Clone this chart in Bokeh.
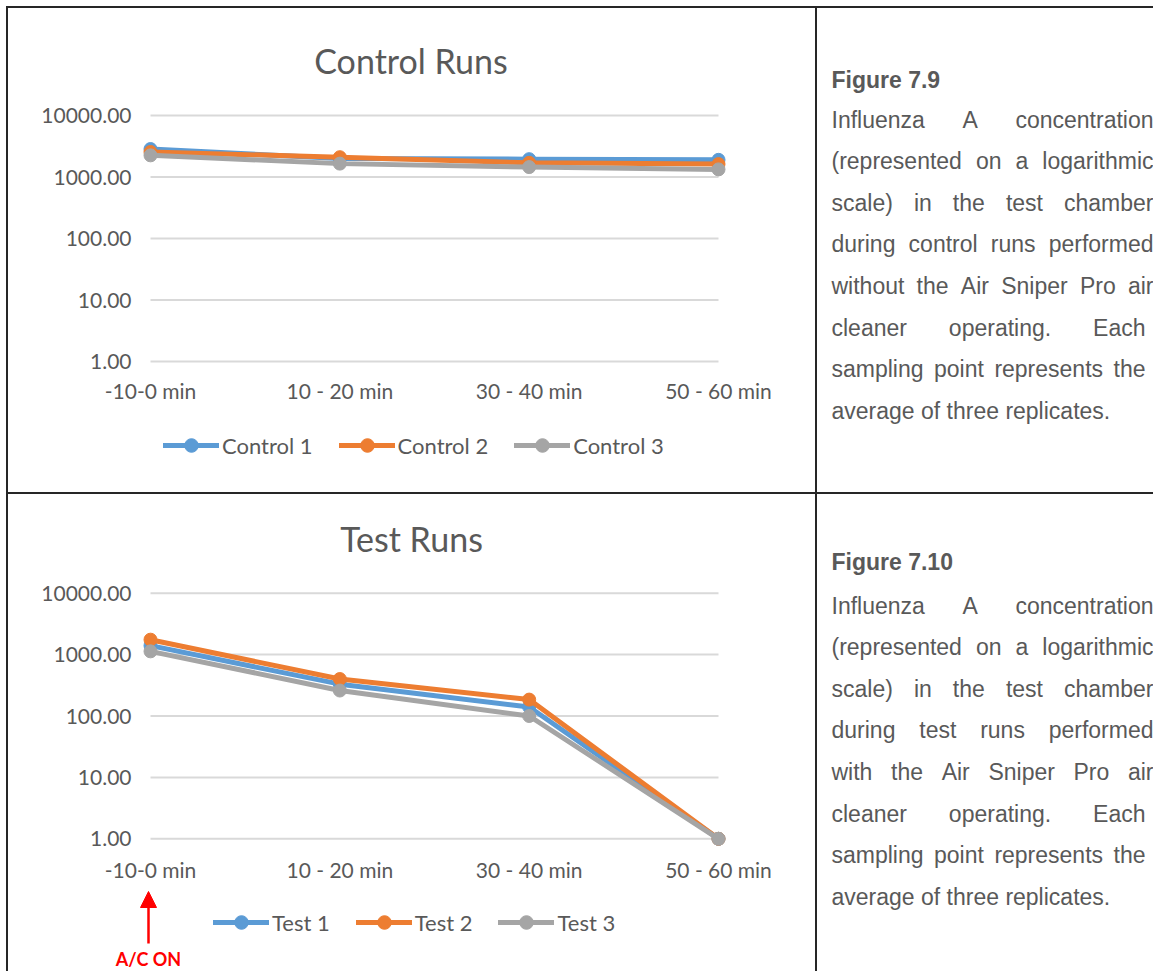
import math
from bokeh.plotting import figure
from bokeh.models import (Range1d, FixedTicker, NumeralTickFormatter, Legend, LegendItem,
                          Label, Arrow, NormalHead, ColumnDataSource, Spacer)
from bokeh.layouts import row, column
from bokeh.embed import file_html
from bokeh.resources import INLINE
from bokeh.core.properties import value

# ---------------- data ----------------
intervals = ["-10-0 min", "10 - 20 min", "30 - 40 min", "50 - 60 min"]
y_ticks = [1, 10, 100, 1000, 10000]

control_names = ["Control 1", "Control 2", "Control 3"]
control_1 = [2850, 2000, 1950, 1900]
control_2 = [2550, 2100, 1700, 1620]
control_3 = [2250, 1650, 1450, 1330]

test_names = ["Test 1", "Test 2", "Test 3"]
test_1 = [1400, 330, 140, 1]
test_2 = [1750, 400, 185, 1]
test_3 = [1130, 260, 100, 1]

series_colors = ["#5B9BD5", "#ED7D31", "#A5A5A5"]

caption_1_title = "Figure 7.9"
caption_1_lines = [
    "Influenza A concentration",
    "(represented on a logarithmic",
    "scale) in the test chamber",
    "during control runs performed",
    "without the Air Sniper Pro air",
    "cleaner operating. Each",
    "sampling point represents the",
    "average of three replicates.",
]
caption_2_title = "Figure 7.10"
caption_2_lines = [
    "Influenza A concentration",
    "(represented on a logarithmic",
    "scale) in the test chamber",
    "during test runs performed",
    "with the Air Sniper Pro air",
    "cleaner operating. Each",
    "sampling point represents the",
    "average of three replicates.",
]

# ---------------- styles / layout (page pixels) ----------------
TEXT_GRAY = "#595959"
GRID_GRAY = "#D9D9D9"
RULE = "#262626"
CHART_FONT = "Lato"

OFFSET = 6
RULE_W = 2
CHART_W = 807
TEXT_W = 336
ROW_H = [484, 477]
CONTENT_W = RULE_W + CHART_W + RULE_W + TEXT_W

CELL_X = OFFSET + RULE_W                 # 8
TEXT_X = CELL_X + CHART_W + RULE_W       # 817
ROW1_TOP = OFFSET + RULE_W               # 8
ROW2_TOP = ROW1_TOP + ROW_H[0] + RULE_W  # 494

LEFT_B = 95
TOP_B = 32
CAT_LEFT, CAT_RIGHT = 150, 718
YLABEL_RIGHT = 131
LEGEND_H = 34


def rule(w, h):
    return Spacer(width=w, height=h, styles={"background-color": RULE})


def make_chart(title, names, series, cell_top, cell_h, grid_top, grid_bottom,
               title_pos, label_cy, legend_pos, arrow=None):
    n = len(intervals)
    xs = list(range(n))
    frame_left = CELL_X + LEFT_B
    frame_right = CELL_X + CHART_W
    frame_top = cell_top + TOP_B
    frame_bottom = cell_top + cell_h
    px_per_cat = (CAT_RIGHT - CAT_LEFT) / (n - 1)
    lo = math.log10(y_ticks[0])
    px_per_dec = (grid_bottom - grid_top) / (math.log10(y_ticks[-1]) - lo)

    def xd(px):
        return (px - CAT_LEFT) / px_per_cat

    def yd(py):
        return 10 ** (lo + (grid_bottom - py) / px_per_dec)

    p = figure(width=CHART_W, height=cell_h, output_backend="svg", toolbar_location=None,
               y_axis_type="log", x_axis_location="above",
               x_range=Range1d(xd(frame_left), xd(frame_right)),
               y_range=Range1d(yd(frame_bottom), yd(frame_top)),
               min_border_left=LEFT_B, min_border_right=0, min_border_top=TOP_B, min_border_bottom=0)
    p.outline_line_color = None
    p.background_fill_color = "white"
    p.border_fill_color = "white"
    p.grid.grid_line_color = None

    p.xaxis.ticker = FixedTicker(ticks=xs)
    p.xaxis.major_label_overrides = {i: lab for i, lab in enumerate(intervals)}
    p.xaxis.fixed_location = yd(label_cy + 11.8)
    p.xaxis.major_label_standoff = 0
    p.yaxis.ticker = FixedTicker(ticks=y_ticks)
    p.yaxis.formatter = NumeralTickFormatter(format="0.00")
    p.yaxis.major_label_standoff = frame_left - YLABEL_RIGHT
    for ax in (p.xaxis, p.yaxis):
        ax.axis_line_color = None
        ax.major_tick_line_color = None
        ax.minor_tick_line_color = None
        ax.major_tick_out = 0
        ax.major_tick_in = 0
        ax.minor_tick_out = 0
        ax.minor_tick_in = 0
        ax.major_label_text_font = CHART_FONT
        ax.major_label_text_font_size = "21px"
        ax.major_label_text_color = TEXT_GRAY

    # horizontal gridlines spanning the category extent
    p.segment(x0=[xs[0]] * len(y_ticks), x1=[xs[-1]] * len(y_ticks), y0=y_ticks, y1=y_ticks,
              line_color=GRID_GRAY, line_width=2)

    items = []
    for name, vals, color in zip(names, series, series_colors):
        src = ColumnDataSource(dict(x=xs, y=vals))
        l = p.line("x", "y", source=src, line_color=color, line_width=5,
                   line_cap="round", line_join="round")
        s = p.scatter("x", "y", source=src, size=13, fill_color=color, line_color=color)
        items.append(LegendItem(label=name, renderers=[l, s]))

    p.add_layout(Label(x=xd(title_pos[0]), y=yd(title_pos[1]), text=title,
                       text_align="center", text_baseline="middle",
                       text_font=CHART_FONT, text_font_size="34px", text_color=TEXT_GRAY))

    legend = Legend(items=items, orientation="horizontal",
                    location=(legend_pos[0] - frame_left,
                              frame_bottom - (legend_pos[1] - LEGEND_H / 2) - LEGEND_H),
                    glyph_width=56, glyph_height=LEGEND_H, label_standoff=3, spacing=26,
                    padding=0, margin=0, border_line_color=None, background_fill_alpha=0,
                    label_text_font=CHART_FONT, label_text_font_size="22px",
                    label_text_color=TEXT_GRAY)
    p.add_layout(legend)

    if arrow is not None:
        ax_page, tail_page, tip_page, text_cy = arrow
        p.add_layout(Arrow(x_start=xd(ax_page), y_start=yd(tail_page), x_end=xd(ax_page), y_end=yd(tip_page),
                           line_color="#FF0000", line_width=2.5,
                           end=NormalHead(size=16, fill_color="#FF0000", line_color="#FF0000")))
        p.add_layout(Label(x=xd(ax_page), y=yd(text_cy),
                           text="A/C ON", text_align="center", text_baseline="middle",
                           text_font=CHART_FONT, text_font_style="bold", text_font_size="18px",
                           text_color="#FF0000"))
    return p


# Arial / Liberation Sans advance widths (1/1000 em)
ARIAL = {" ": 278, "(": 333, ")": 333, ".": 278, "a": 556, "b": 556, "c": 500, "d": 556, "e": 556,
         "f": 278, "g": 556, "h": 556, "i": 222, "j": 222, "k": 500, "l": 222, "m": 833, "n": 556,
         "o": 556, "p": 556, "q": 556, "r": 333, "s": 500, "t": 278, "u": 556, "v": 500, "w": 722,
         "x": 500, "y": 500, "z": 500, "A": 667, "E": 667, "I": 278, "P": 667, "S": 667}
BODY_FS = 23
TEXT_LEFT = 831
LINE_STEP = 41.6


def word_width(w):
    return sum(ARIAL.get(ch, 556) for ch in w) * BODY_FS / 1000.0


def make_caption(cell_top, cell_h, title, lines, title_cy, first_cy, right_edges):
    p = figure(width=TEXT_W, height=cell_h, output_backend="svg", toolbar_location=None,
               min_border_left=0, min_border_right=0, min_border_top=TOP_B, min_border_bottom=0,
               x_axis_location=None, y_axis_location=None,
               x_range=Range1d(TEXT_X, TEXT_X + TEXT_W),
               y_range=Range1d(cell_top + cell_h, cell_top + TOP_B))
    p.outline_line_color = None
    p.grid.grid_line_color = None
    p.background_fill_color = "white"
    p.border_fill_color = "white"
    p.text(x=[TEXT_LEFT], y=[title_cy], text=[title], text_font=value("Liberation Sans"),
           text_font_style="bold", text_font_size="23px", text_color=TEXT_GRAY,
           text_baseline="middle", text_align="left")
    wx, wy, wt = [], [], []
    for i, line in enumerate(lines):
        words = line.split()
        cy = first_cy + i * LINE_STEP
        right = right_edges[i]
        widths = [word_width(w) for w in words]
        if right is not None and len(words) > 1:
            gap = (right - TEXT_LEFT - sum(widths)) / (len(words) - 1)
        else:
            gap = ARIAL[" "] * BODY_FS / 1000.0
        x = TEXT_LEFT
        for w, ww in zip(words, widths):
            wx.append(x)
            wy.append(cy)
            wt.append(w)
            x += ww + gap
    src = ColumnDataSource(dict(x=wx, y=wy, text=wt))
    p.text("x", "y", text="text", source=src, text_font=value("Liberation Sans"),
           text_font_size="23px", text_color=TEXT_GRAY, text_baseline="middle", text_align="left")
    return p


edges = [1153, 1153, 1153, 1153, 1153, 1145, 1145, None]

chart1 = make_chart("Control Runs", control_names, [control_1, control_2, control_3],
                    ROW1_TOP, ROW_H[0], 115, 361, (410.5, 60), 391, (163, 445))
chart2 = make_chart("Test Runs", test_names, [test_1, test_2, test_3],
                    ROW2_TOP, ROW_H[1], 592.7, 838.3, (411, 537.5), 870, (213, 922),
                    arrow=(148, 943, 891, 958.5))
cap1 = make_caption(ROW1_TOP, ROW_H[0], caption_1_title, caption_1_lines, 79.5, 119, edges)
cap2 = make_caption(ROW2_TOP, ROW_H[1], caption_2_title, caption_2_lines, 561, 605, edges)

content = column(
    rule(CONTENT_W, RULE_W),
    row(rule(RULE_W, ROW_H[0]), chart1, rule(RULE_W, ROW_H[0]), cap1),
    rule(CONTENT_W, RULE_W),
    row(rule(RULE_W, ROW_H[1]), chart2, rule(RULE_W, ROW_H[1]), cap2),
)
total_h = RULE_W + ROW_H[0] + RULE_W + ROW_H[1]
layout = column(
    Spacer(width=OFFSET + CONTENT_W, height=OFFSET),
    row(Spacer(width=OFFSET, height=total_h), content),
)

open("out.html", "w").write(file_html(layout, INLINE))
